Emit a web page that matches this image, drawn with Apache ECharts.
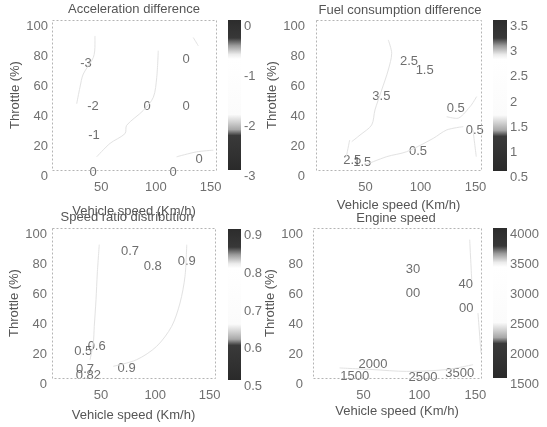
<!DOCTYPE html>
<html>
<head>
<meta charset="utf-8">
<script src="https://cdn.jsdelivr.net/npm/echarts@6/dist/echarts.min.js"></script>
<style>
  html, body { margin: 0; padding: 0; background: #fff; }
  #chart { width: 547px; height: 427px; }
</style>
</head>
<body>
<div id="chart"></div>
<script>
// ---------- data ----------
const titles = ['Acceleration difference', 'Fuel consumption difference', 'Speed ratio distribution', 'Engine speed'];
const xRange = [5, 155];
const yRange = [0, 100];
const xTicks = [50, 100, 150];

// colorbar ranges [min, max, step]
const accBar = [-3, 0, 1];
const fuelBar = [0.5, 3.5, 0.5];
const ratioBar = [0.5, 0.9, 0.1];
const engineBar = [1500, 4000, 500];

// contour lines (vehicle speed, throttle)
const accLines = [
  [[44.3, 89.4], [44.3, 83.9], [42.8, 75], [33.6, 64], [30.6, 55.2], [27.6, 44.2]],
  [[102.2, 79.5], [100.8, 61.8], [97.7, 48.5], [88.5, 39.7], [73.3, 29.8], [71.8, 24.3], [58, 17.7], [45.9, 8.8]],
  [[134.2, 88.3], [138.8, 82.8]],
  [[119, 8.8], [137.3, 12.1], [152.5, 13.2]]
];
const fuelLines = [
  [[70.7, 86.7], [73.8, 77.8], [70.7, 66.7], [64.7, 53.3], [58.6, 40], [55.6, 30], [45, 23.3], [37.5, 18.9]],
  [[49.5, 3.3], [69.3, 8.9], [87.4, 12.2], [111.6, 21.1], [123.8, 26.7], [138.9, 28.9]],
  [[151, 48.9], [145, 42.2], [132.9, 34.4], [123.8, 35.5]],
  [[147.7, 26.7], [150.7, 8.9]],
  [[35.6, 20], [32.6, 8.9]]
];
const ratioLines = [
  [[48.5, 88.9], [46.7, 70], [45.5, 52.2], [43.9, 34.4], [43, 23.3], [40, 12.2]],
  [[129, 88.9], [127.4, 67.8], [122.8, 50], [115.1, 34.4], [101.3, 21.1], [82.9, 12.2], [61.4, 7.8]]
];
const engineLines = [
  [[28.8, 6.7], [58.6, 5.6], [88.3, 4.4], [124, 5.6], [147.9, 8.9]],
  [[152.3, 43.3], [155, 16.7]],
  [[144.9, 92.2], [146.7, 65.6]]
];

// contour labels [speed, throttle, text]
const accLabels = [
  [36.1, 70.9, '-3'], [42.5, 42.4, '-2'], [43.4, 23.2, '-1'], [42.5, -1.3, '0'],
  [115.7, -1.3, '0'], [139.5, 7.3, '0'], [91.9, 42.4, '0'], [127.6, 42.4, '0'], [127.6, 73.5, '0']
];
const fuelLabels = [
  [89.5, 72.7, '2.5'], [103.8, 66.7, '1.5'], [64.4, 48.9, '3.5'], [132, 41.1, '0.5'],
  [149.3, 26.7, '0.5'], [97.7, 12.2, '0.5'], [38, 6.7, '2.5'], [47.1, 5.1, '1.5']
];
const ratioLabels = [
  [76.8, 84.4, '0.7'], [97.7, 74.4, '0.8'], [129, 77.8, '0.9'], [46.1, 21.1, '0.6'],
  [33.8, 17.8, '0.5'], [35.4, 5.6, '0.7'], [38.4, 1.6, '0.82'], [73.7, 6.7, '0.9']
];
const engineLabels = [
  [94.3, 72.2, '30'], [94.3, 56.7, '00'], [141.3, 62.2, '40'], [141.9, 46.7, '00'],
  [58.6, 8.9, '2000'], [42.2, 1.1, '1500'], [103.2, 0.7, '2500'], [136, 2.9, '3500']
];

// ---------- layout ----------
const chart = echarts.init(document.getElementById('chart'));
const FONT = 'Liberation Sans, Arial, sans-serif';
const plotGrids = [
  {left: 52, top: 20, width: 164, height: 150},
  {left: 316, top: 20, width: 165, height: 150},
  {left: 52, top: 228, width: 163, height: 150},
  {left: 313, top: 228, width: 168, height: 150}
];
const barGrids = [
  {left: 228, top: 20, width: 13, height: 150},
  {left: 493, top: 20, width: 14, height: 151},
  {left: 228, top: 229, width: 13, height: 151},
  {left: 493, top: 228, width: 14, height: 150}
];
const titlePos = [[134, 9], [400, 10], [127, 217], [396, 218]];
const yLabelMargin = [4, 11, 5, 10];
const xNameGap = [35, 29, 31, 27];
const bars = [accBar, fuelBar, ratioBar, engineBar];
const lines = [accLines, fuelLines, ratioLines, engineLines];
const labels = [accLabels, fuelLabels, ratioLabels, engineLabels];

const stops = [
  {offset: 0, color: '#2c2c2c'}, {offset: 0.12, color: '#383838'}, {offset: 0.17, color: '#9a9a9a'},
  {offset: 0.23, color: '#ececec'}, {offset: 0.26, color: '#ffffff'}, {offset: 0.63, color: '#fbfbfb'},
  {offset: 0.68, color: '#d2d2d2'}, {offset: 0.73, color: '#a8a8a8'}, {offset: 0.77, color: '#3a3a3a'},
  {offset: 1, color: '#2a2a2a'}
];

const grid = [], xAxis = [], yAxis = [], series = [];
// main plot axes 0-3
for (let i = 0; i < 4; i++) {
  grid.push(plotGrids[i]);
  xAxis.push({
    type: 'value', gridIndex: i, min: xRange[0], max: xRange[1],
    name: 'Vehicle speed (Km/h)', nameLocation: 'middle', nameGap: xNameGap[i],
    nameTextStyle: {fontFamily: FONT, fontSize: 13, color: '#555'},
    axisLine: {show: false}, axisTick: {show: false}, splitLine: {show: false},
    axisLabel: {customValues: xTicks, fontFamily: FONT, fontSize: 13, color: '#707070', margin: 11}
  });
  yAxis.push({
    type: 'value', gridIndex: i, min: yRange[0], max: yRange[1], interval: 20,
    name: 'Throttle (%)', nameLocation: 'middle', nameGap: 26, nameRotate: 90,
    nameTextStyle: {fontFamily: FONT, fontSize: 13, color: '#555'},
    axisLine: {show: false}, axisTick: {show: false}, splitLine: {show: false},
    axisLabel: {fontFamily: FONT, fontSize: 13, color: '#707070', margin: yLabelMargin[i], verticalAlign: 'top'}
  });
}
// colorbars 4-7
for (let i = 0; i < 4; i++) {
  grid.push(barGrids[i]);
  const b = bars[i];
  xAxis.push({type: 'value', gridIndex: 4 + i, min: 0, max: 1, show: false});
  yAxis.push({
    type: 'value', gridIndex: 4 + i, position: 'right', min: b[0], max: b[1], interval: b[2],
    axisLine: {show: false}, axisTick: {show: false}, splitLine: {show: false},
    axisLabel: {fontFamily: FONT, fontSize: 13, color: '#707070', margin: 3, verticalAlign: 'top',
      formatter: v => String(+v.toFixed(2))}
  });
  series.push({
    type: 'custom', xAxisIndex: 4 + i, yAxisIndex: 4 + i, silent: true,
    data: [[0, b[0], b[1]]],
    renderItem: function (params, api) {
      const p0 = api.coord([0, api.value(2)]);
      const p1 = api.coord([1, api.value(1)]);
      return {
        type: 'rect',
        shape: {x: p0[0], y: p0[1], width: p1[0] - p0[0], height: p1[1] - p0[1]},
        style: {fill: new echarts.graphic.LinearGradient(0, 0, 0, 1, stops)}
      };
    }
  });
}
// frame (drawn by a custom series on the axis extents), contour lines and labels
for (let i = 0; i < 4; i++) {
  series.push({
    type: 'custom', xAxisIndex: i, yAxisIndex: i, silent: true, clip: false, z: 5,
    data: [[xRange[0], yRange[0], xRange[1], yRange[1]]],
    renderItem: function (params, api) {
      const a = api.coord([api.value(0), api.value(3)]);
      const b = api.coord([api.value(2), api.value(1)]);
      return {
        type: 'rect',
        shape: {x: Math.round(a[0]) + 0.5, y: Math.round(a[1]) + 0.5,
          width: Math.round(b[0] - a[0]), height: Math.round(b[1] - a[1])},
        style: {fill: 'none', stroke: '#b4b4b4', lineWidth: 1, lineDash: [2, 2]}
      };
    }
  });
  lines[i].forEach(l => series.push({
    type: 'line', xAxisIndex: i, yAxisIndex: i, data: l, showSymbol: false, silent: true,
    smooth: 0.3, lineStyle: {color: '#e2e2e2', width: 1}
  }));
  series.push({
    type: 'scatter', xAxisIndex: i, yAxisIndex: i, symbolSize: 0, silent: true, clip: false,
    data: labels[i].map(d => ({value: [d[0], d[1]], name: d[2]})),
    label: {show: true, position: 'inside', formatter: '{b}', fontFamily: FONT, fontSize: 13, color: '#4a4a4a'}
  });
}

chart.setOption({
  backgroundColor: '#fff',
  animation: false,
  graphic: titles.map((t, i) => ({
    type: 'text', x: titlePos[i][0], y: titlePos[i][1],
    style: {text: t, fontFamily: FONT, fontSize: 13, fill: '#555', align: 'center', verticalAlign: 'middle'}
  })),
  grid: grid,
  xAxis: xAxis,
  yAxis: yAxis,
  series: series
});
</script>
</body>
</html>
